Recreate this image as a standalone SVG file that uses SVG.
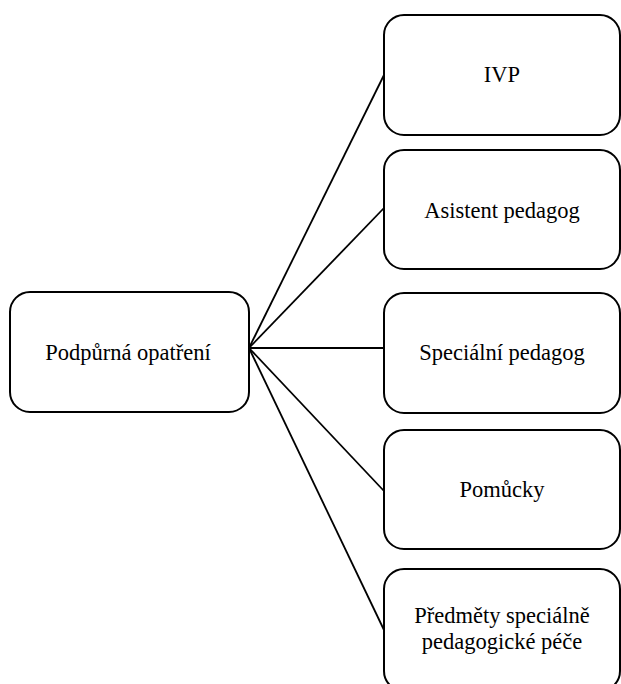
<svg xmlns="http://www.w3.org/2000/svg" width="621" height="684" viewBox="0 0 621 684">
<style>
.box{fill:#fff;stroke:#000;stroke-width:2}
.lbl{font-family:'Times New Roman','Liberation Serif','DejaVu Serif',serif;font-size:22.5px;fill:#000;text-anchor:middle}
.con{stroke:#000;stroke-width:1.8;fill:none}
</style>
<rect width="621" height="684" fill="#fff"/>
<g id="connectors">
<line class="con" x1="249" y1="348" x2="384" y2="75"/>
<line class="con" x1="249" y1="348" x2="384" y2="208"/>
<line class="con" x1="249" y1="348" x2="384" y2="348"/>
<line class="con" x1="249" y1="348" x2="384" y2="491"/>
<line class="con" x1="249" y1="348" x2="384" y2="630"/>
</g>
<g id="podpurna">
<rect class="box" x="10" y="292" width="239" height="120" rx="20"/>
<text class="lbl" x="128" y="360">Podpůrná opatření</text>
</g>
<g id="ivp">
<rect class="box" x="384" y="15" width="236" height="120" rx="20"/>
<text class="lbl" x="502" y="82">IVP</text>
</g>
<g id="asistent">
<rect class="box" x="384" y="150" width="236" height="119" rx="20"/>
<text class="lbl" x="502" y="218">Asistent pedagog</text>
</g>
<g id="specialni">
<rect class="box" x="384" y="293" width="236" height="120" rx="20"/>
<text class="lbl" x="502" y="360">Speciální pedagog</text>
</g>
<g id="pomucky">
<rect class="box" x="384" y="430" width="236" height="119" rx="20"/>
<text class="lbl" x="502" y="497">Pomůcky</text>
</g>
<g id="predmety">
<rect class="box" x="384" y="569" width="236" height="122" rx="20"/>
<text class="lbl" x="502" y="623">Předměty speciálně</text>
<text class="lbl" x="502" y="649">pedagogické péče</text>
</g>
</svg>
